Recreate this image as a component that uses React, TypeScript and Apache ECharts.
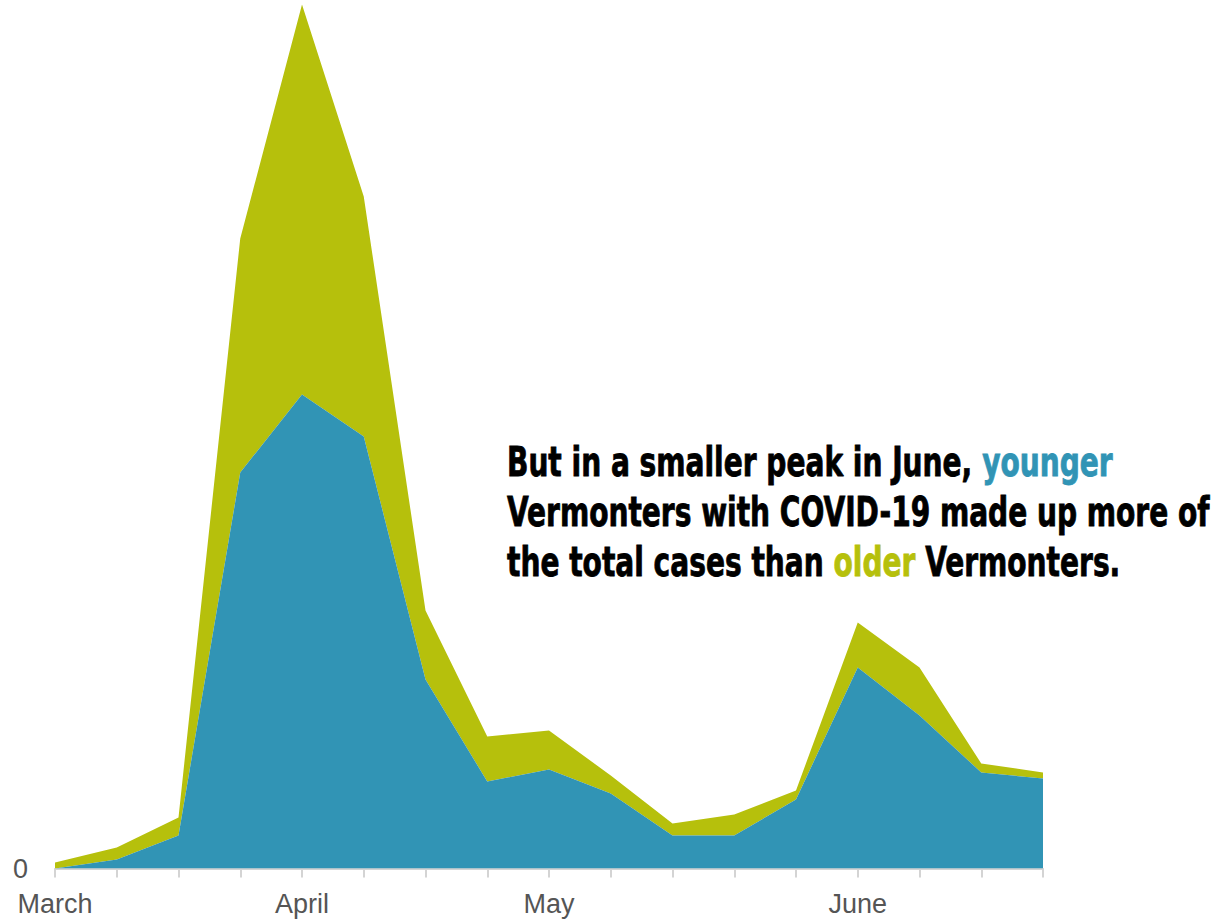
import React, { useEffect, useRef } from "react";
import * as echarts from "echarts";

// Weekly periods (week starting)
const weeks = [
  "2020-03-01", "2020-03-08", "2020-03-15", "2020-03-22", "2020-03-29",
  "2020-04-05", "2020-04-12", "2020-04-19", "2020-04-26", "2020-05-03",
  "2020-05-10", "2020-05-17", "2020-05-24", "2020-05-31", "2020-06-07",
  "2020-06-14", "2020-06-21",
];
// Month tick labels shown on the x axis (by week index)
const monthLabels = [
  "March", "", "", "", "April", "", "", "", "May", "", "", "", "", "June", "", "", "",
];
// Weekly new cases, younger Vermonters (bottom layer)
const younger = [0, 3, 11, 132, 158, 144, 63, 29, 33, 25, 11, 11, 23, 67, 51, 32, 30];
// Weekly new cases, older Vermonters (stacked on top)
const older = [2, 4, 6, 78, 130, 80, 23, 15, 13, 6, 4, 7, 3, 15, 16, 3, 2];

const yMax = 288;

const BLUE = "#3194b5";
const OLIVE = "#b6c00c";

const annotationLines = [
  "{k|But in a smaller peak in June, }{y|younger}",
  "{k|Vermonters with COVID-19 made up more of}",
  "{k|the total cases than }{o|older}{k| Vermonters.}",
];

const ANN_FONT = '"Liberation Sans Narrow", "DejaVu Sans Condensed", "Roboto", sans-serif';

function measure(text: string, font: string): number {
  const c = document.createElement("canvas");
  const ctx = c.getContext("2d");
  if (!ctx) return 0;
  ctx.font = font;
  return ctx.measureText(text).width;
}

export default function App() {
  const ref = useRef<HTMLDivElement>(null);

  useEffect(() => {
    document.body.style.margin = "0";
    document.body.style.overflow = "hidden";
    if (!ref.current) return;
    const chart = echarts.init(ref.current, null, { renderer: "svg" });

    const fontSize = 40;
    const w = measure(
      "Vermonters with COVID-19 made up more of",
      `bold ${fontSize}px ${ANN_FONT}`
    );
    const targetW = 703;
    const sx = w > 0 ? targetW / w : 1;

    const richBase = {
      fontFamily: ANN_FONT,
      fontWeight: "bold" as const,
      fontSize,
      lineHeight: 50,
      lineWidth: 0.8,
    };

    chart.setOption({
      animation: false,
      backgroundColor: "#ffffff",
      grid: { left: 55, right: 171, top: 4.5, bottom: 52.5, containLabel: false },
      xAxis: {
        type: "category",
        data: weeks,
        boundaryGap: false,
        axisLine: { lineStyle: { color: "#d4d4d4", width: 2 } },
        axisTick: {
          show: true,
          interval: 0,
          length: 9,
          lineStyle: { color: "#d4d4d4", width: 2 },
        },
        axisLabel: {
          interval: 0,
          margin: 22,
          fontSize: 27,
          color: "#555555",
          fontFamily: '"Liberation Sans", Arial, sans-serif',
          formatter: (_v: string, i: number) => monthLabels[i] || "",
        },
        splitLine: { show: false },
      },
      yAxis: {
        type: "value",
        min: 0,
        max: yMax,
        interval: yMax,
        axisLine: { show: false },
        axisTick: { show: false },
        splitLine: { show: false },
        axisLabel: {
          margin: 27,
          fontSize: 27,
          color: "#555555",
          fontFamily: '"Liberation Sans", Arial, sans-serif',
          formatter: (v: number) => (v === 0 ? "0" : ""),
        },
      },
      series: [
        {
          name: "Younger",
          type: "line",
          stack: "cases",
          data: younger,
          symbol: "none",
          lineStyle: { width: 0 },
          areaStyle: { color: BLUE, opacity: 1 },
          z: 2,
        },
        {
          name: "Older",
          type: "line",
          stack: "cases",
          data: older,
          symbol: "none",
          lineStyle: { width: 0 },
          areaStyle: { color: OLIVE, opacity: 1 },
          z: 1,
        },
      ],
      graphic: [
        {
          type: "text",
          x: 507,
          y: 437,
          scaleX: sx,
          originX: 0,
          z: 100,
          style: {
            text: annotationLines.join("\n"),
            verticalAlign: "top",
            align: "left",
            rich: {
              k: { ...richBase, fill: "#000000", stroke: "#000000" },
              y: { ...richBase, fill: BLUE, stroke: BLUE },
              o: { ...richBase, fill: OLIVE, stroke: OLIVE },
            },
          },
        },
      ],
    });

    return () => {
      chart.dispose();
    };
  }, []);

  return <div ref={ref} style={{ width: 1214, height: 921 }} />;
}
